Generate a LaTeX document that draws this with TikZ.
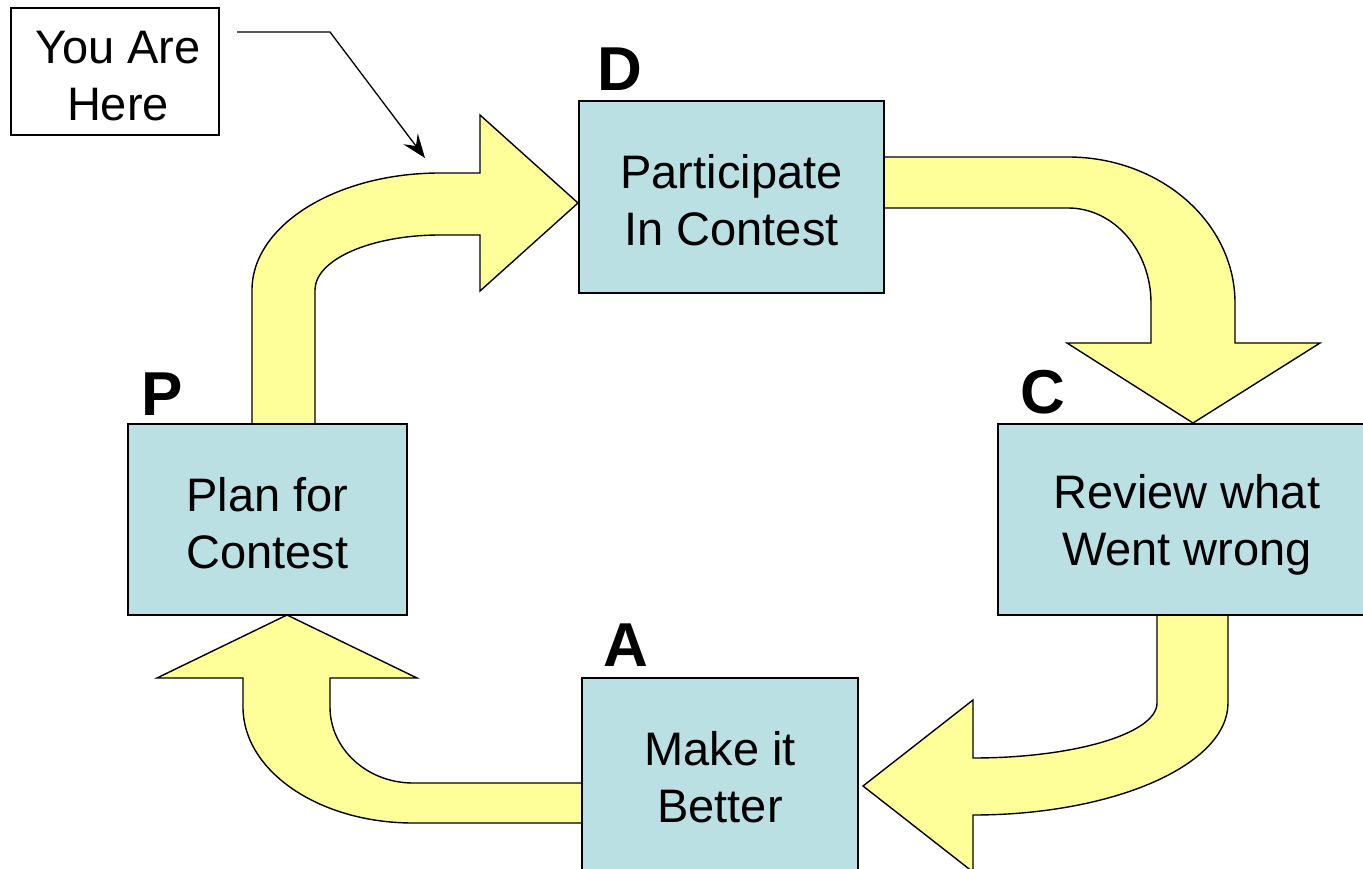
\documentclass[tikz,border=0pt]{standalone}
\usepackage{fontspec}
\setmainfont{Liberation Sans}
\usetikzlibrary{arrows.meta}
\definecolor{boxfill}{HTML}{BBE0E3}
\definecolor{arrfill}{HTML}{FFFF99}
\tikzset{
  boxtext/.style={inner sep=0pt, align=center, font=\fontsize{47}{57}\selectfont},
  stagebox/.style={draw=black, line width=1.6pt, fill=boxfill, inner sep=0pt},
  notebox/.style={draw=black, line width=1.6pt, fill=white, inner sep=0pt},
  phaselabel/.style={inner sep=0pt, font=\fontsize{62}{62}\selectfont\bfseries},
  bigarrow/.style={draw=black, line width=1.4pt, fill=arrfill, line join=miter},
  pointer/.style={draw=black, line width=1.3pt, -{Stealth[length=24pt,width=18pt,inset=9pt]}}
}
\begin{document}
\begin{tikzpicture}[x=1pt,y=-1pt]
\useasboundingbox (0,0) rectangle (1363,869);
% yellow cycle arrows
% P -> D
\path[bigarrow] (252,424) -- (252,290) .. controls (252,225.4) and (336.2,173) .. (440,173)
  -- (480,173) -- (480,115) -- (578,203) -- (480,291) -- (480,235) -- (440,235)
  .. controls (371,235) and (315,259.6) .. (315,290) -- (315,424) -- cycle;
% D -> C
\path[bigarrow] (884,157) -- (1068,157) .. controls (1160.2,157) and (1235,222.4) .. (1235,303)
  -- (1235,343) -- (1320,343) -- (1193,423) -- (1067,343) -- (1151,343) -- (1151,303)
  .. controls (1151,250.5) and (1113.8,208) .. (1068,208) -- (884,208) -- cycle;
% C -> A
\path[bigarrow] (1157,615) -- (1157,703) .. controls (1157,733.4) and (1074.6,758) .. (973,758)
  -- (973,700) -- (863,786) -- (973,872) -- (973,815)
  .. controls (1113.8,815) and (1228,764.9) .. (1228,703) -- (1228,615) -- cycle;
% A -> P
\path[bigarrow] (582,783) -- (413,783) .. controls (367.2,783) and (330,749) .. (330,707)
  -- (330,678) -- (417,678) -- (287,615) -- (157,678) -- (243,678) -- (243,707)
  .. controls (243,771.1) and (319.1,823) .. (413,823) -- (582,823) -- cycle;
% boxes
\node[stagebox, minimum width=305pt, minimum height=192pt,
  label={[boxtext, yshift=-3pt]center:Participate\\In Contest}] (D) at (731.5,197) {};
\node[stagebox, minimum width=279pt, minimum height=191pt,
  label={[boxtext, yshift=-4pt]center:Plan for\\Contest}] (P) at (267.5,519.5) {};
\node[stagebox, minimum width=378pt, minimum height=191pt,
  label={[boxtext, yshift=-5pt]center:Review what\\Went wrong}] (C) at (1187,519.5) {};
\node[stagebox, minimum width=276pt, minimum height=192pt,
  label={[boxtext, yshift=-3pt]center:Make it\\Better}] (A) at (720,774) {};
% phase letters
\node[phaselabel] (Dl) at (620,69) {D};
\node[phaselabel] (Pl) at (162,394) {P};
\node[phaselabel] (Cl) at (1043,392) {C};
\node[phaselabel] (Al) at (626,645) {A};
% you are here
\node[notebox, minimum width=208pt, minimum height=127pt,
  label={[boxtext, yshift=-5pt, xshift=3pt]center:You Are\\Here}] (yah) at (115,71.5) {};
\coordinate (ptrstart) at (237,32);
\coordinate (ptrbend) at (330,32);
\coordinate (ptrend) at (425,158);
\draw[pointer] (ptrstart) -- (ptrbend) -- (ptrend);
\end{tikzpicture}
\end{document}
